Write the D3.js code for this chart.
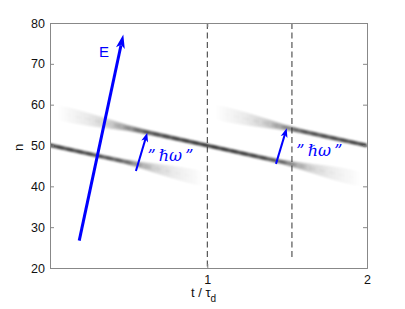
<!DOCTYPE html>
<html>
<head>
<meta charset="utf-8">
<script src="https://cdn.jsdelivr.net/npm/d3@7"></script>
<style>
body { margin: 0; background: #fff; }
</style>
</head>
<body>
<div id="chart"></div>
<script>
// values

var tDomain = [0.015, 2];
var nDomain = [20, 80];
var yTicks = [20, 30, 40, 50, 60, 70, 80];
var xTicks = [1, 2];

// centre lines of the population bands: [t0, n0, t1, n1]
var bandA = [0, 50.2, 1, 41.6];
var bandB = [0, 58.6, 2, 41.4];
var bandC = [1, 58.6, 2, 50];

// along each band: [t, darkness, spread in n]
var stopsA = [[0.0, 0.8, 0.9], [0.3, 0.75, 0.9], [0.48, 0.62, 1.0], [0.58, 0.35, 1.5], [0.68, 0.17, 2.3], [0.8, 0.08, 3.2], [0.92, 0.03, 3.8], [0.98, 0, 3.8]];
var stopsB = [[0.05, 0, 3.8], [0.12, 0.03, 3.8], [0.25, 0.09, 3.2], [0.38, 0.2, 2.3], [0.5, 0.42, 1.4], [0.62, 0.68, 1.0], [1.0, 0.85, 0.9], [1.35, 0.75, 0.9], [1.47, 0.6, 1.0], [1.56, 0.35, 1.5], [1.66, 0.17, 2.3], [1.78, 0.08, 3.2], [1.9, 0.03, 3.8], [1.97, 0, 3.8]];
var stopsC = [[1.04, 0, 3.8], [1.11, 0.03, 3.8], [1.24, 0.09, 3.2], [1.36, 0.2, 2.3], [1.48, 0.42, 1.4], [1.6, 0.68, 1.0], [2.0, 0.8, 0.9]];

// dashed markers: t, lowest n
var dashT = [1, 1.53];
var dashLow = [20, 22.4];

// arrows: [t0, n0, t1, n1]
var fieldArrow = [0.198, 26.7, 0.474, 77.2];
var photonArrows = [[0.553, 43.75, 0.624, 53.1], [1.43, 45.5, 1.497, 54.2]];
var photonLabelPos = [[0.625, 46.2], [1.557, 47.4]];
var fieldLabelPos = [0.322, 71.7];

var svgWidth = 405;
var svgHeight = 309;
var margin = { top: 23, right: 38, bottom: 41, left: 50 };
var width = svgWidth - margin.left - margin.right;
var height = svgHeight - margin.top - margin.bottom;

var svg = d3.select("#chart")
  .append("svg")
  .attr("width", svgWidth)
  .attr("height", svgHeight)
  .style("font-family", "'Liberation Sans', Arial, sans-serif");

var defs = svg.append("defs");
defs.append("clipPath").attr("id", "plotclip")
  .append("rect").attr("width", width).attr("height", height);
defs.append("filter").attr("id", "soft")
  .attr("x", "-10%").attr("y", "-50%").attr("width", "120%").attr("height", "200%")
  .append("feGaussianBlur").attr("stdDeviation", 1.2);
defs.append("filter").attr("id", "soft2")
  .attr("x", "-10%").attr("y", "-50%").attr("width", "120%").attr("height", "200%")
  .append("feGaussianBlur").attr("stdDeviation", 0.9);

var chart = svg.append("g")
  .attr("transform", "translate(" + margin.left + "," + margin.top + ")");

var x = d3.scaleLinear().domain(tDomain).range([0, width]);
var y = d3.scaleLinear().domain(nDomain).range([height, 0]);

// bands
var bandLayer = chart.append("g").attr("clip-path", "url(#plotclip)");

function drawBand(id, line, stops) {
  var nAt = function (t) {
    return line[1] + (line[3] - line[1]) * (t - line[0]) / (line[2] - line[0]);
  };
  var t0 = stops[0][0], t1 = stops[stops.length - 1][0];
  var xa = x(t0);
  var xb = x(t1);
  var grad = defs.append("linearGradient").attr("id", id)
    .attr("gradientUnits", "userSpaceOnUse")
    .attr("x1", xa).attr("x2", xb).attr("y1", 0).attr("y2", 0);
  grad.selectAll("stop").data(stops).enter().append("stop")
    .attr("offset", function (d) { return (x(d[0]) - xa) / (xb - xa); })
    .attr("stop-color", "#000")
    .attr("stop-opacity", function (d) { return d[1]; });

  var top = stops.map(function (d) { return [x(d[0]), y(nAt(d[0]) + d[2] / 2)]; });
  var bottom = stops.map(function (d) { return [x(d[0]), y(nAt(d[0]) - d[2] / 2)]; }).reverse();
  bandLayer.append("path")
    .attr("d", d3.line()(top.concat(bottom)) + "Z")
    .attr("fill", "url(#" + id + ")")
    .attr("opacity", 0.9)
    .attr("filter", "url(#soft)");

  // blotchy core, as in the sampled image
  bandLayer.append("line")
    .attr("x1", xa).attr("y1", y(nAt(t0)))
    .attr("x2", xb).attr("y2", y(nAt(t1)))
    .attr("stroke", "url(#" + id + ")")
    .attr("stroke-width", 2)
    .attr("stroke-dasharray", "6,4")
    .attr("opacity", 0.35)
    .attr("filter", "url(#soft2)");
}

drawBand("gA", bandA, stopsA);
drawBand("gB", bandB, stopsB);
drawBand("gC", bandC, stopsC);

// dashed lines
chart.selectAll(".dash")
  .data(dashT)
  .enter()
  .append("line")
  .attr("class", "dash")
  .attr("x1", function (d) { return x(d); })
  .attr("x2", function (d) { return x(d); })
  .attr("y1", y(80))
  .attr("y2", function (d, i) { return y(dashLow[i]); })
  .attr("stroke", "#333")
  .attr("stroke-width", 1)
  .attr("stroke-dasharray", "6,3.5");

// arrows
function arrow(a, lw, hl, hw) {
  var x0 = x(a[0]), y0 = y(a[1]), x1 = x(a[2]), y1 = y(a[3]);
  var dx = x1 - x0, dy = y1 - y0;
  var L = Math.sqrt(dx * dx + dy * dy);
  var ux = dx / L, uy = dy / L, px = -uy, py = ux;
  var bx = x1 - ux * hl, by = y1 - uy * hl;
  chart.append("line")
    .attr("x1", x0).attr("y1", y0)
    .attr("x2", bx + ux * 3).attr("y2", by + uy * 3)
    .attr("stroke", "#0000ff")
    .attr("stroke-width", lw);
  chart.append("path")
    .attr("d", "M" + x1 + "," + y1 +
      "L" + (bx + px * hw / 2) + "," + (by + py * hw / 2) +
      "L" + (x1 - ux * hl * 0.75) + "," + (y1 - uy * hl * 0.75) +
      "L" + (bx - px * hw / 2) + "," + (by - py * hw / 2) + "Z")
    .attr("fill", "#0000ff");
}

arrow(fieldArrow, 3, 14, 9);
photonArrows.forEach(function (a) { arrow(a, 2, 9, 7); });

chart.append("text")
  .attr("x", x(fieldLabelPos[0]))
  .attr("y", y(fieldLabelPos[1]))
  .style("font-size", "15px")
  .attr("fill", "#0000ff")
  .text("E");

chart.selectAll(".hw")
  .data(photonLabelPos)
  .enter()
  .append("text")
  .attr("class", "hw")
  .attr("x", function (d) { return x(d[0]); })
  .attr("y", function (d) { return y(d[1]); })
  .style("font-family", "'DejaVu Serif', serif")
  .style("font-style", "italic")
  .style("font-size", "16px")
  .attr("fill", "#0000ff")
  .text("\u201D\u2009\u210F\u03C9\u2009\u201D");

// axes (box with inward ticks)
var leftAxis = d3.axisLeft(y).tickValues(yTicks).tickSize(-4).tickPadding(5);
var rightAxis = d3.axisRight(y).tickValues(yTicks).tickSize(-4).tickFormat("");
var bottomAxis = d3.axisBottom(x).tickValues(xTicks).tickSize(-4).tickPadding(7).tickFormat(d3.format("d"));
var topAxis = d3.axisTop(x).tickValues(xTicks).tickSize(-4).tickFormat("");

function styleAxis(g) {
  g.selectAll("path").attr("stroke", "#888");
  g.selectAll("line").attr("stroke", "#888");
  g.selectAll("text")
    .style("font-family", "'Liberation Sans', Arial, sans-serif")
    .style("font-size", "12.5px")
    .attr("fill", "#111");
}

chart.append("g").call(leftAxis).call(styleAxis);
chart.append("g").attr("transform", "translate(" + width + ",0)").call(rightAxis).call(styleAxis);
chart.append("g").attr("transform", "translate(0," + height + ")").call(bottomAxis).call(styleAxis);
chart.append("g").call(topAxis).call(styleAxis);

// axis labels
svg.append("text")
  .attr("transform", "translate(23," + (margin.top + y(50) + 2) + ") rotate(-90)")
  .style("text-anchor", "middle")
  .style("font-size", "13px")
  .attr("fill", "#111")
  .text("n");

var xl = svg.append("text")
  .attr("x", 191)
  .attr("y", 297)
  .style("font-size", "13px")
  .attr("fill", "#111");
xl.append("tspan").text("t / \u03C4");
xl.append("tspan").attr("dy", 5).style("font-size", "10px").text("d");
</script>
</body>
</html>
